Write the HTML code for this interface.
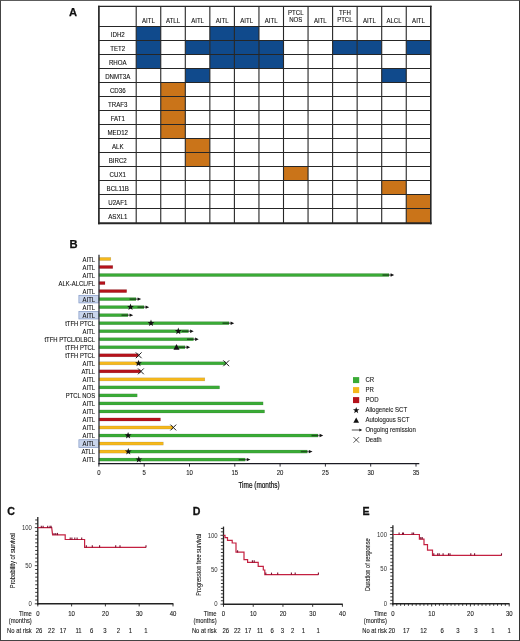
<!DOCTYPE html>
<html><head><meta charset="utf-8"><style>
html,body{margin:0;padding:0;background:#fff;}
.wrap{position:relative;width:520px;height:641px;overflow:hidden;background:#fff;}
svg{position:absolute;left:0;top:0;font-family:"Liberation Sans", sans-serif;filter:blur(0.35px);}
.frame{position:absolute;left:0;top:0;width:518px;height:639px;border:1px solid #444;border-top-color:#5c5c5c;border-right-color:#333;}
</style></head><body><div class="wrap">
<svg width="520" height="641" viewBox="0 0 520 641">
<text x="69.00" y="16.20" font-size="11.2" text-anchor="start" font-weight="bold" fill="#111" stroke="#111" stroke-width="0.25">A</text>
<rect x="98.9" y="6.4" width="331.9" height="216.79999999999998" fill="#fff"/>
<rect x="136.20" y="26.55" width="24.55" height="14.00" fill="#104a8c"/>
<rect x="209.85" y="26.55" width="24.55" height="14.00" fill="#104a8c"/>
<rect x="234.40" y="26.55" width="24.55" height="14.00" fill="#104a8c"/>
<rect x="136.20" y="40.55" width="24.55" height="14.00" fill="#104a8c"/>
<rect x="185.30" y="40.55" width="24.55" height="14.00" fill="#104a8c"/>
<rect x="209.85" y="40.55" width="24.55" height="14.00" fill="#104a8c"/>
<rect x="234.40" y="40.55" width="24.55" height="14.00" fill="#104a8c"/>
<rect x="258.95" y="40.55" width="24.55" height="14.00" fill="#104a8c"/>
<rect x="332.60" y="40.55" width="24.55" height="14.00" fill="#104a8c"/>
<rect x="357.15" y="40.55" width="24.55" height="14.00" fill="#104a8c"/>
<rect x="406.25" y="40.55" width="24.55" height="14.00" fill="#104a8c"/>
<rect x="136.20" y="54.55" width="24.55" height="14.00" fill="#104a8c"/>
<rect x="209.85" y="54.55" width="24.55" height="14.00" fill="#104a8c"/>
<rect x="234.40" y="54.55" width="24.55" height="14.00" fill="#104a8c"/>
<rect x="258.95" y="54.55" width="24.55" height="14.00" fill="#104a8c"/>
<rect x="185.30" y="68.55" width="24.55" height="14.00" fill="#104a8c"/>
<rect x="381.70" y="68.55" width="24.55" height="14.00" fill="#104a8c"/>
<rect x="160.75" y="82.55" width="24.55" height="14.00" fill="#ca7419"/>
<rect x="160.75" y="96.55" width="24.55" height="14.00" fill="#ca7419"/>
<rect x="160.75" y="110.55" width="24.55" height="14.00" fill="#ca7419"/>
<rect x="160.75" y="124.55" width="24.55" height="14.00" fill="#ca7419"/>
<rect x="185.30" y="138.55" width="24.55" height="14.00" fill="#ca7419"/>
<rect x="185.30" y="152.55" width="24.55" height="14.00" fill="#ca7419"/>
<rect x="283.50" y="166.55" width="24.55" height="14.00" fill="#ca7419"/>
<rect x="381.70" y="180.55" width="24.55" height="14.00" fill="#ca7419"/>
<rect x="406.25" y="194.55" width="24.55" height="14.00" fill="#ca7419"/>
<rect x="406.25" y="208.55" width="24.55" height="14.65" fill="#ca7419"/>
<line x1="136.20" y1="6.4" x2="136.20" y2="223.20" stroke="#262626" stroke-width="1.1"/>
<line x1="160.75" y1="6.4" x2="160.75" y2="223.20" stroke="#262626" stroke-width="1.1"/>
<line x1="185.30" y1="6.4" x2="185.30" y2="223.20" stroke="#262626" stroke-width="1.1"/>
<line x1="209.85" y1="6.4" x2="209.85" y2="223.20" stroke="#262626" stroke-width="1.1"/>
<line x1="234.40" y1="6.4" x2="234.40" y2="223.20" stroke="#262626" stroke-width="1.1"/>
<line x1="258.95" y1="6.4" x2="258.95" y2="223.20" stroke="#262626" stroke-width="1.1"/>
<line x1="283.50" y1="6.4" x2="283.50" y2="223.20" stroke="#262626" stroke-width="1.1"/>
<line x1="308.05" y1="6.4" x2="308.05" y2="223.20" stroke="#262626" stroke-width="1.1"/>
<line x1="332.60" y1="6.4" x2="332.60" y2="223.20" stroke="#262626" stroke-width="1.1"/>
<line x1="357.15" y1="6.4" x2="357.15" y2="223.20" stroke="#262626" stroke-width="1.1"/>
<line x1="381.70" y1="6.4" x2="381.70" y2="223.20" stroke="#262626" stroke-width="1.1"/>
<line x1="406.25" y1="6.4" x2="406.25" y2="223.20" stroke="#262626" stroke-width="1.1"/>
<line x1="98.9" y1="26.55" x2="430.8" y2="26.55" stroke="#262626" stroke-width="1.1"/>
<line x1="98.9" y1="40.55" x2="430.8" y2="40.55" stroke="#262626" stroke-width="1.1"/>
<line x1="98.9" y1="54.55" x2="430.8" y2="54.55" stroke="#262626" stroke-width="1.1"/>
<line x1="98.9" y1="68.55" x2="430.8" y2="68.55" stroke="#262626" stroke-width="1.1"/>
<line x1="98.9" y1="82.55" x2="430.8" y2="82.55" stroke="#262626" stroke-width="1.1"/>
<line x1="98.9" y1="96.55" x2="430.8" y2="96.55" stroke="#262626" stroke-width="1.1"/>
<line x1="98.9" y1="110.55" x2="430.8" y2="110.55" stroke="#262626" stroke-width="1.1"/>
<line x1="98.9" y1="124.55" x2="430.8" y2="124.55" stroke="#262626" stroke-width="1.1"/>
<line x1="98.9" y1="138.55" x2="430.8" y2="138.55" stroke="#262626" stroke-width="1.1"/>
<line x1="98.9" y1="152.55" x2="430.8" y2="152.55" stroke="#262626" stroke-width="1.1"/>
<line x1="98.9" y1="166.55" x2="430.8" y2="166.55" stroke="#262626" stroke-width="1.1"/>
<line x1="98.9" y1="180.55" x2="430.8" y2="180.55" stroke="#262626" stroke-width="1.1"/>
<line x1="98.9" y1="194.55" x2="430.8" y2="194.55" stroke="#262626" stroke-width="1.1"/>
<line x1="98.9" y1="208.55" x2="430.8" y2="208.55" stroke="#262626" stroke-width="1.1"/>
<line x1="98.9" y1="5.800000000000001" x2="98.9" y2="224.30" stroke="#262626" stroke-width="1.7"/>
<line x1="430.8" y1="5.800000000000001" x2="430.8" y2="224.30" stroke="#262626" stroke-width="1.6"/>
<line x1="98.05000000000001" y1="6.4" x2="431.6" y2="6.4" stroke="#262626" stroke-width="1.25"/>
<line x1="98.05000000000001" y1="223.20" x2="431.6" y2="223.20" stroke="#262626" stroke-width="2.1"/>
<text transform="translate(148.47,22.50) scale(0.92,1)" font-size="6.6" text-anchor="middle" font-weight="normal" fill="#111" stroke="#111" stroke-width="0.1">AITL</text>
<text transform="translate(173.02,22.50) scale(0.92,1)" font-size="6.6" text-anchor="middle" font-weight="normal" fill="#111" stroke="#111" stroke-width="0.1">ATLL</text>
<text transform="translate(197.57,22.50) scale(0.92,1)" font-size="6.6" text-anchor="middle" font-weight="normal" fill="#111" stroke="#111" stroke-width="0.1">AITL</text>
<text transform="translate(222.12,22.50) scale(0.92,1)" font-size="6.6" text-anchor="middle" font-weight="normal" fill="#111" stroke="#111" stroke-width="0.1">AITL</text>
<text transform="translate(246.67,22.50) scale(0.92,1)" font-size="6.6" text-anchor="middle" font-weight="normal" fill="#111" stroke="#111" stroke-width="0.1">AITL</text>
<text transform="translate(271.23,22.50) scale(0.92,1)" font-size="6.6" text-anchor="middle" font-weight="normal" fill="#111" stroke="#111" stroke-width="0.1">AITL</text>
<text transform="translate(295.77,15.00) scale(0.92,1)" font-size="6.6" text-anchor="middle" font-weight="normal" fill="#111" stroke="#111" stroke-width="0.1">PTCL</text>
<text transform="translate(295.77,22.40) scale(0.92,1)" font-size="6.6" text-anchor="middle" font-weight="normal" fill="#111" stroke="#111" stroke-width="0.1">NOS</text>
<text transform="translate(320.32,22.50) scale(0.92,1)" font-size="6.6" text-anchor="middle" font-weight="normal" fill="#111" stroke="#111" stroke-width="0.1">AITL</text>
<text transform="translate(344.88,15.00) scale(0.92,1)" font-size="6.6" text-anchor="middle" font-weight="normal" fill="#111" stroke="#111" stroke-width="0.1">TFH</text>
<text transform="translate(344.88,22.40) scale(0.92,1)" font-size="6.6" text-anchor="middle" font-weight="normal" fill="#111" stroke="#111" stroke-width="0.1">PTCL</text>
<text transform="translate(369.42,22.50) scale(0.92,1)" font-size="6.6" text-anchor="middle" font-weight="normal" fill="#111" stroke="#111" stroke-width="0.1">AITL</text>
<text transform="translate(393.98,22.50) scale(0.92,1)" font-size="6.6" text-anchor="middle" font-weight="normal" fill="#111" stroke="#111" stroke-width="0.1">ALCL</text>
<text transform="translate(418.52,22.50) scale(0.92,1)" font-size="6.6" text-anchor="middle" font-weight="normal" fill="#111" stroke="#111" stroke-width="0.1">AITL</text>
<text transform="translate(117.75,36.50) scale(0.96,1)" font-size="6.4" text-anchor="middle" font-weight="normal" fill="#111" stroke="#111" stroke-width="0.1">IDH2</text>
<text transform="translate(117.75,50.50) scale(0.96,1)" font-size="6.4" text-anchor="middle" font-weight="normal" fill="#111" stroke="#111" stroke-width="0.1">TET2</text>
<text transform="translate(117.75,64.50) scale(0.96,1)" font-size="6.4" text-anchor="middle" font-weight="normal" fill="#111" stroke="#111" stroke-width="0.1">RHOA</text>
<text transform="translate(117.75,78.50) scale(0.96,1)" font-size="6.4" text-anchor="middle" font-weight="normal" fill="#111" stroke="#111" stroke-width="0.1">DNMT3A</text>
<text transform="translate(117.75,92.50) scale(0.96,1)" font-size="6.4" text-anchor="middle" font-weight="normal" fill="#111" stroke="#111" stroke-width="0.1">CD36</text>
<text transform="translate(117.75,106.50) scale(0.96,1)" font-size="6.4" text-anchor="middle" font-weight="normal" fill="#111" stroke="#111" stroke-width="0.1">TRAF3</text>
<text transform="translate(117.75,120.50) scale(0.96,1)" font-size="6.4" text-anchor="middle" font-weight="normal" fill="#111" stroke="#111" stroke-width="0.1">FAT1</text>
<text transform="translate(117.75,134.50) scale(0.96,1)" font-size="6.4" text-anchor="middle" font-weight="normal" fill="#111" stroke="#111" stroke-width="0.1">MED12</text>
<text transform="translate(117.75,148.50) scale(0.96,1)" font-size="6.4" text-anchor="middle" font-weight="normal" fill="#111" stroke="#111" stroke-width="0.1">ALK</text>
<text transform="translate(117.75,162.50) scale(0.96,1)" font-size="6.4" text-anchor="middle" font-weight="normal" fill="#111" stroke="#111" stroke-width="0.1">BIRC2</text>
<text transform="translate(117.75,176.50) scale(0.96,1)" font-size="6.4" text-anchor="middle" font-weight="normal" fill="#111" stroke="#111" stroke-width="0.1">CUX1</text>
<text transform="translate(117.75,190.50) scale(0.96,1)" font-size="6.4" text-anchor="middle" font-weight="normal" fill="#111" stroke="#111" stroke-width="0.1">BCL11B</text>
<text transform="translate(117.75,204.50) scale(0.96,1)" font-size="6.4" text-anchor="middle" font-weight="normal" fill="#111" stroke="#111" stroke-width="0.1">U2AF1</text>
<text transform="translate(117.75,218.82) scale(0.96,1)" font-size="6.4" text-anchor="middle" font-weight="normal" fill="#111" stroke="#111" stroke-width="0.1">ASXL1</text>
<text x="69.40" y="248.10" font-size="11.2" text-anchor="start" font-weight="bold" fill="#111" stroke="#111" stroke-width="0.25">B</text>
<rect x="78.9" y="295.32" width="19.6" height="7.6" fill="#c9d5ec" stroke="#8197c5" stroke-width="0.7"/>
<rect x="78.9" y="311.37" width="19.6" height="7.6" fill="#c9d5ec" stroke="#8197c5" stroke-width="0.7"/>
<rect x="78.9" y="439.75" width="19.6" height="7.6" fill="#c9d5ec" stroke="#8197c5" stroke-width="0.7"/>
<text transform="translate(95.10,261.60) scale(0.94,1)" font-size="6.3" text-anchor="end" font-weight="normal" fill="#111" stroke="#111" stroke-width="0.1">AITL</text>
<rect x="98.90" y="257.45" width="11.90" height="3.1" fill="#f5b81c" stroke="#000" stroke-opacity="0.2" stroke-width="0.5"/>
<text transform="translate(95.10,269.62) scale(0.94,1)" font-size="6.3" text-anchor="end" font-weight="normal" fill="#111" stroke="#111" stroke-width="0.1">AITL</text>
<rect x="98.90" y="265.47" width="13.90" height="3.1" fill="#b5121b" stroke="#000" stroke-opacity="0.2" stroke-width="0.5"/>
<text transform="translate(95.10,277.65) scale(0.94,1)" font-size="6.3" text-anchor="end" font-weight="normal" fill="#111" stroke="#111" stroke-width="0.1">AITL</text>
<rect x="98.90" y="273.50" width="290.10" height="3.1" fill="#3aab36" stroke="#000" stroke-opacity="0.2" stroke-width="0.5"/>
<line x1="382.50" y1="275.05" x2="391.00" y2="275.05" stroke="#000" stroke-opacity="0.5" stroke-width="1.5"/><polygon points="390.60,273.35 394.20,275.05 390.60,276.75" fill="#111"/>
<text transform="translate(95.10,285.67) scale(0.94,1)" font-size="6.3" text-anchor="end" font-weight="normal" fill="#111" stroke="#111" stroke-width="0.1">ALK-ALCL/FL</text>
<rect x="98.90" y="281.52" width="6.10" height="3.1" fill="#b5121b" stroke="#000" stroke-opacity="0.2" stroke-width="0.5"/>
<text transform="translate(95.10,293.70) scale(0.94,1)" font-size="6.3" text-anchor="end" font-weight="normal" fill="#111" stroke="#111" stroke-width="0.1">AITL</text>
<rect x="98.90" y="289.55" width="27.80" height="3.1" fill="#b5121b" stroke="#000" stroke-opacity="0.2" stroke-width="0.5"/>
<text transform="translate(95.10,301.72) scale(0.94,1)" font-size="6.3" text-anchor="end" font-weight="normal" fill="#111" stroke="#111" stroke-width="0.1">AITL</text>
<rect x="98.90" y="297.57" width="37.10" height="3.1" fill="#3aab36" stroke="#000" stroke-opacity="0.2" stroke-width="0.5"/>
<line x1="129.50" y1="299.12" x2="138.00" y2="299.12" stroke="#000" stroke-opacity="0.5" stroke-width="1.5"/><polygon points="137.60,297.42 141.20,299.12 137.60,300.82" fill="#111"/>
<text transform="translate(95.10,309.74) scale(0.94,1)" font-size="6.3" text-anchor="end" font-weight="normal" fill="#111" stroke="#111" stroke-width="0.1">AITL</text>
<rect x="98.90" y="305.59" width="45.10" height="3.1" fill="#3aab36" stroke="#000" stroke-opacity="0.2" stroke-width="0.5"/>
<line x1="137.50" y1="307.14" x2="146.00" y2="307.14" stroke="#000" stroke-opacity="0.5" stroke-width="1.5"/><polygon points="145.60,305.44 149.20,307.14 145.60,308.84" fill="#111"/>
<polygon points="130.50,303.54 131.35,305.97 133.92,306.03 131.88,307.59 132.62,310.06 130.50,308.59 128.38,310.06 129.12,307.59 127.08,306.03 129.65,305.97" fill="#111"/>
<text transform="translate(95.10,317.77) scale(0.94,1)" font-size="6.3" text-anchor="end" font-weight="normal" fill="#111" stroke="#111" stroke-width="0.1">AITL</text>
<rect x="98.90" y="313.62" width="29.10" height="3.1" fill="#3aab36" stroke="#000" stroke-opacity="0.2" stroke-width="0.5"/>
<line x1="121.50" y1="315.17" x2="130.00" y2="315.17" stroke="#000" stroke-opacity="0.5" stroke-width="1.5"/><polygon points="129.60,313.47 133.20,315.17 129.60,316.87" fill="#111"/>
<text transform="translate(95.10,325.79) scale(0.94,1)" font-size="6.3" text-anchor="end" font-weight="normal" fill="#111" stroke="#111" stroke-width="0.1">tTFH PTCL</text>
<rect x="98.90" y="321.64" width="130.10" height="3.1" fill="#3aab36" stroke="#000" stroke-opacity="0.2" stroke-width="0.5"/>
<line x1="222.50" y1="323.19" x2="231.00" y2="323.19" stroke="#000" stroke-opacity="0.5" stroke-width="1.5"/><polygon points="230.60,321.49 234.20,323.19 230.60,324.89" fill="#111"/>
<polygon points="151.00,319.59 151.85,322.02 154.42,322.08 152.38,323.64 153.12,326.10 151.00,324.64 148.88,326.10 149.62,323.64 147.58,322.08 150.15,322.02" fill="#111"/>
<text transform="translate(95.10,333.82) scale(0.94,1)" font-size="6.3" text-anchor="end" font-weight="normal" fill="#111" stroke="#111" stroke-width="0.1">AITL</text>
<rect x="98.90" y="329.67" width="89.60" height="3.1" fill="#3aab36" stroke="#000" stroke-opacity="0.2" stroke-width="0.5"/>
<line x1="182.00" y1="331.22" x2="190.50" y2="331.22" stroke="#000" stroke-opacity="0.5" stroke-width="1.5"/><polygon points="190.10,329.52 193.70,331.22 190.10,332.92" fill="#111"/>
<polygon points="178.30,327.62 179.15,330.04 181.72,330.10 179.68,331.66 180.42,334.13 178.30,332.67 176.18,334.13 176.92,331.66 174.88,330.10 177.45,330.04" fill="#111"/>
<text transform="translate(95.10,341.84) scale(0.94,1)" font-size="6.3" text-anchor="end" font-weight="normal" fill="#111" stroke="#111" stroke-width="0.1">tTFH PTCL/DLBCL</text>
<rect x="98.90" y="337.69" width="94.60" height="3.1" fill="#3aab36" stroke="#000" stroke-opacity="0.2" stroke-width="0.5"/>
<line x1="187.00" y1="339.24" x2="195.50" y2="339.24" stroke="#000" stroke-opacity="0.5" stroke-width="1.5"/><polygon points="195.10,337.54 198.70,339.24 195.10,340.94" fill="#111"/>
<text transform="translate(95.10,349.86) scale(0.94,1)" font-size="6.3" text-anchor="end" font-weight="normal" fill="#111" stroke="#111" stroke-width="0.1">tTFH PTCL</text>
<rect x="98.90" y="345.71" width="86.10" height="3.1" fill="#3aab36" stroke="#000" stroke-opacity="0.2" stroke-width="0.5"/>
<line x1="178.50" y1="347.26" x2="187.00" y2="347.26" stroke="#000" stroke-opacity="0.5" stroke-width="1.5"/><polygon points="186.60,345.56 190.20,347.26 186.60,348.96" fill="#111"/>
<polygon points="176.50,344.06 179.54,349.66 173.46,349.66" fill="#111"/>
<text transform="translate(95.10,357.89) scale(0.94,1)" font-size="6.3" text-anchor="end" font-weight="normal" fill="#111" stroke="#111" stroke-width="0.1">tTFH PTCL</text>
<rect x="98.90" y="353.74" width="39.40" height="3.1" fill="#b5121b" stroke="#000" stroke-opacity="0.2" stroke-width="0.5"/>
<path d="M135.80,352.39 L141.60,358.19 M141.60,352.39 L135.80,358.19" stroke="#111" stroke-width="0.95" fill="none"/>
<text transform="translate(95.10,365.91) scale(0.94,1)" font-size="6.3" text-anchor="end" font-weight="normal" fill="#111" stroke="#111" stroke-width="0.1">AITL</text>
<rect x="98.90" y="361.76" width="39.60" height="3.1" fill="#f5b81c" stroke="#000" stroke-opacity="0.2" stroke-width="0.5"/>
<rect x="138.50" y="361.76" width="87.30" height="3.1" fill="#3aab36" stroke="#000" stroke-opacity="0.2" stroke-width="0.5"/>
<polygon points="138.50,359.71 139.35,362.14 141.92,362.20 139.88,363.76 140.62,366.22 138.50,364.76 136.38,366.22 137.12,363.76 135.08,362.20 137.65,362.14" fill="#111"/>
<path d="M223.30,360.41 L229.10,366.21 M229.10,360.41 L223.30,366.21" stroke="#111" stroke-width="0.95" fill="none"/>
<text transform="translate(95.10,373.94) scale(0.94,1)" font-size="6.3" text-anchor="end" font-weight="normal" fill="#111" stroke="#111" stroke-width="0.1">ATLL</text>
<rect x="98.90" y="369.79" width="41.60" height="3.1" fill="#b5121b" stroke="#000" stroke-opacity="0.2" stroke-width="0.5"/>
<path d="M138.00,368.44 L143.80,374.24 M143.80,368.44 L138.00,374.24" stroke="#111" stroke-width="0.95" fill="none"/>
<text transform="translate(95.10,381.96) scale(0.94,1)" font-size="6.3" text-anchor="end" font-weight="normal" fill="#111" stroke="#111" stroke-width="0.1">AITL</text>
<rect x="98.90" y="377.81" width="105.90" height="3.1" fill="#f5b81c" stroke="#000" stroke-opacity="0.2" stroke-width="0.5"/>
<text transform="translate(95.10,389.98) scale(0.94,1)" font-size="6.3" text-anchor="end" font-weight="normal" fill="#111" stroke="#111" stroke-width="0.1">AITL</text>
<rect x="98.90" y="385.83" width="120.70" height="3.1" fill="#3aab36" stroke="#000" stroke-opacity="0.2" stroke-width="0.5"/>
<text transform="translate(95.10,398.01) scale(0.94,1)" font-size="6.3" text-anchor="end" font-weight="normal" fill="#111" stroke="#111" stroke-width="0.1">PTCL NOS</text>
<rect x="98.90" y="393.86" width="38.30" height="3.1" fill="#3aab36" stroke="#000" stroke-opacity="0.2" stroke-width="0.5"/>
<text transform="translate(95.10,406.03) scale(0.94,1)" font-size="6.3" text-anchor="end" font-weight="normal" fill="#111" stroke="#111" stroke-width="0.1">AITL</text>
<rect x="98.90" y="401.88" width="164.20" height="3.1" fill="#3aab36" stroke="#000" stroke-opacity="0.2" stroke-width="0.5"/>
<text transform="translate(95.10,414.06) scale(0.94,1)" font-size="6.3" text-anchor="end" font-weight="normal" fill="#111" stroke="#111" stroke-width="0.1">AITL</text>
<rect x="98.90" y="409.91" width="165.70" height="3.1" fill="#3aab36" stroke="#000" stroke-opacity="0.2" stroke-width="0.5"/>
<text transform="translate(95.10,422.08) scale(0.94,1)" font-size="6.3" text-anchor="end" font-weight="normal" fill="#111" stroke="#111" stroke-width="0.1">AITL</text>
<rect x="98.90" y="417.93" width="61.60" height="3.1" fill="#b5121b" stroke="#000" stroke-opacity="0.2" stroke-width="0.5"/>
<text transform="translate(95.10,430.10) scale(0.94,1)" font-size="6.3" text-anchor="end" font-weight="normal" fill="#111" stroke="#111" stroke-width="0.1">AITL</text>
<rect x="98.90" y="425.95" width="74.00" height="3.1" fill="#f5b81c" stroke="#000" stroke-opacity="0.2" stroke-width="0.5"/>
<path d="M170.40,424.60 L176.20,430.40 M176.20,424.60 L170.40,430.40" stroke="#111" stroke-width="0.95" fill="none"/>
<text transform="translate(95.10,438.13) scale(0.94,1)" font-size="6.3" text-anchor="end" font-weight="normal" fill="#111" stroke="#111" stroke-width="0.1">AITL</text>
<rect x="98.90" y="433.98" width="219.10" height="3.1" fill="#3aab36" stroke="#000" stroke-opacity="0.2" stroke-width="0.5"/>
<line x1="311.50" y1="435.53" x2="320.00" y2="435.53" stroke="#000" stroke-opacity="0.5" stroke-width="1.5"/><polygon points="319.60,433.83 323.20,435.53 319.60,437.23" fill="#111"/>
<polygon points="128.10,431.93 128.95,434.35 131.52,434.42 129.48,435.98 130.22,438.44 128.10,436.98 125.98,438.44 126.72,435.98 124.68,434.42 127.25,434.35" fill="#111"/>
<text transform="translate(95.10,446.15) scale(0.94,1)" font-size="6.3" text-anchor="end" font-weight="normal" fill="#111" stroke="#111" stroke-width="0.1">AITL</text>
<rect x="98.90" y="442.00" width="64.40" height="3.1" fill="#f5b81c" stroke="#000" stroke-opacity="0.2" stroke-width="0.5"/>
<text transform="translate(95.10,454.18) scale(0.94,1)" font-size="6.3" text-anchor="end" font-weight="normal" fill="#111" stroke="#111" stroke-width="0.1">ATLL</text>
<rect x="98.90" y="450.03" width="29.40" height="3.1" fill="#f5b81c" stroke="#000" stroke-opacity="0.2" stroke-width="0.5"/>
<rect x="128.30" y="450.03" width="179.00" height="3.1" fill="#3aab36" stroke="#000" stroke-opacity="0.2" stroke-width="0.5"/>
<polygon points="128.30,447.98 129.15,450.40 131.72,450.46 129.68,452.02 130.42,454.49 128.30,453.03 126.18,454.49 126.92,452.02 124.88,450.46 127.45,450.40" fill="#111"/>
<line x1="300.80" y1="451.58" x2="309.30" y2="451.58" stroke="#000" stroke-opacity="0.5" stroke-width="1.5"/><polygon points="308.90,449.88 312.50,451.58 308.90,453.28" fill="#111"/>
<text transform="translate(95.10,462.20) scale(0.94,1)" font-size="6.3" text-anchor="end" font-weight="normal" fill="#111" stroke="#111" stroke-width="0.1">AITL</text>
<rect x="98.90" y="458.05" width="146.30" height="3.1" fill="#3aab36" stroke="#000" stroke-opacity="0.2" stroke-width="0.5"/>
<line x1="238.70" y1="459.60" x2="247.20" y2="459.60" stroke="#000" stroke-opacity="0.5" stroke-width="1.5"/><polygon points="246.80,457.90 250.40,459.60 246.80,461.30" fill="#111"/>
<polygon points="138.80,456.00 139.65,458.43 142.22,458.49 140.18,460.05 140.92,462.51 138.80,461.05 136.68,462.51 137.42,460.05 135.38,458.49 137.95,458.43" fill="#111"/>
<line x1="99.0" y1="254.7" x2="99.0" y2="464.20000000000005" stroke="#2e3038" stroke-width="1.3"/>
<line x1="98.4" y1="463.6" x2="419.3" y2="463.6" stroke="#1a1a22" stroke-width="1.1"/>
<line x1="98.90" y1="463.6" x2="98.90" y2="466.6" stroke="#1a1a22" stroke-width="0.9"/>
<text transform="translate(98.90,475.40) scale(0.95,1)" font-size="6.3" text-anchor="middle" font-weight="normal" fill="#1a1a1a" stroke="#1a1a1a" stroke-width="0.1">0</text>
<line x1="144.20" y1="463.6" x2="144.20" y2="466.6" stroke="#1a1a22" stroke-width="0.9"/>
<text transform="translate(144.20,475.40) scale(0.95,1)" font-size="6.3" text-anchor="middle" font-weight="normal" fill="#1a1a1a" stroke="#1a1a1a" stroke-width="0.1">5</text>
<line x1="189.50" y1="463.6" x2="189.50" y2="466.6" stroke="#1a1a22" stroke-width="0.9"/>
<text transform="translate(189.50,475.40) scale(0.95,1)" font-size="6.3" text-anchor="middle" font-weight="normal" fill="#1a1a1a" stroke="#1a1a1a" stroke-width="0.1">10</text>
<line x1="234.80" y1="463.6" x2="234.80" y2="466.6" stroke="#1a1a22" stroke-width="0.9"/>
<text transform="translate(234.80,475.40) scale(0.95,1)" font-size="6.3" text-anchor="middle" font-weight="normal" fill="#1a1a1a" stroke="#1a1a1a" stroke-width="0.1">15</text>
<line x1="280.10" y1="463.6" x2="280.10" y2="466.6" stroke="#1a1a22" stroke-width="0.9"/>
<text transform="translate(280.10,475.40) scale(0.95,1)" font-size="6.3" text-anchor="middle" font-weight="normal" fill="#1a1a1a" stroke="#1a1a1a" stroke-width="0.1">20</text>
<line x1="325.40" y1="463.6" x2="325.40" y2="466.6" stroke="#1a1a22" stroke-width="0.9"/>
<text transform="translate(325.40,475.40) scale(0.95,1)" font-size="6.3" text-anchor="middle" font-weight="normal" fill="#1a1a1a" stroke="#1a1a1a" stroke-width="0.1">25</text>
<line x1="370.70" y1="463.6" x2="370.70" y2="466.6" stroke="#1a1a22" stroke-width="0.9"/>
<text transform="translate(370.70,475.40) scale(0.95,1)" font-size="6.3" text-anchor="middle" font-weight="normal" fill="#1a1a1a" stroke="#1a1a1a" stroke-width="0.1">30</text>
<line x1="416.00" y1="463.6" x2="416.00" y2="466.6" stroke="#1a1a22" stroke-width="0.9"/>
<text transform="translate(416.00,475.40) scale(0.95,1)" font-size="6.3" text-anchor="middle" font-weight="normal" fill="#1a1a1a" stroke="#1a1a1a" stroke-width="0.1">35</text>
<text x="259.05" y="487.50" font-size="8.6" text-anchor="middle" font-weight="normal" fill="#111" stroke="#111" stroke-width="0.22" textLength="41.3" lengthAdjust="spacingAndGlyphs">Time (months)</text>
<rect x="353" y="377.1" width="6.2" height="6" fill="#3aab36"/>
<rect x="353" y="387.1" width="6.2" height="6" fill="#f5b81c"/>
<rect x="353" y="397.1" width="6.2" height="6" fill="#b5121b"/>
<polygon points="356.20,407.00 357.02,409.27 359.43,409.35 357.53,410.83 358.20,413.15 356.20,411.80 354.20,413.15 354.87,410.83 352.97,409.35 355.38,409.27" fill="#111"/>
<polygon points="356.20,417.40 359.05,422.65 353.35,422.65" fill="#111"/>
<line x1="351.8" y1="430" x2="360" y2="430" stroke="#777" stroke-width="1.3"/>
<polygon points="359.4,428.5 362.2,430 359.4,431.5" fill="#111"/>
<path d="M353.50,437.10 L359.10,442.70 M359.10,437.10 L353.50,442.70" stroke="#111" stroke-width="0.7" fill="none"/>
<text transform="translate(365.40,382.10) scale(0.905,1)" font-size="6.7" text-anchor="start" font-weight="normal" fill="#1a1a1a" stroke="#1a1a1a" stroke-width="0.1">CR</text>
<text transform="translate(365.40,392.10) scale(0.905,1)" font-size="6.7" text-anchor="start" font-weight="normal" fill="#1a1a1a" stroke="#1a1a1a" stroke-width="0.1">PR</text>
<text transform="translate(365.40,402.10) scale(0.905,1)" font-size="6.7" text-anchor="start" font-weight="normal" fill="#1a1a1a" stroke="#1a1a1a" stroke-width="0.1">POD</text>
<text transform="translate(365.40,412.10) scale(0.905,1)" font-size="6.7" text-anchor="start" font-weight="normal" fill="#1a1a1a" stroke="#1a1a1a" stroke-width="0.1">Allogeneic SCT</text>
<text transform="translate(365.40,422.10) scale(0.905,1)" font-size="6.7" text-anchor="start" font-weight="normal" fill="#1a1a1a" stroke="#1a1a1a" stroke-width="0.1">Autologous SCT</text>
<text transform="translate(365.40,432.10) scale(0.905,1)" font-size="6.7" text-anchor="start" font-weight="normal" fill="#1a1a1a" stroke="#1a1a1a" stroke-width="0.1">Ongoing remission</text>
<text transform="translate(365.40,442.10) scale(0.905,1)" font-size="6.7" text-anchor="start" font-weight="normal" fill="#1a1a1a" stroke="#1a1a1a" stroke-width="0.1">Death</text>
<text x="7.20" y="514.70" font-size="10.6" text-anchor="start" font-weight="bold" fill="#111" stroke="#111" stroke-width="0.3">C</text>
<line x1="37.8" y1="517.0" x2="37.8" y2="604.6999999999999" stroke="#222" stroke-width="1.3"/>
<line x1="34.80" y1="603.80" x2="37.8" y2="603.80" stroke="#222" stroke-width="0.9"/>
<line x1="35.20" y1="599.99" x2="37.8" y2="599.99" stroke="#222" stroke-width="0.9"/>
<line x1="35.20" y1="596.18" x2="37.8" y2="596.18" stroke="#222" stroke-width="0.9"/>
<line x1="35.20" y1="592.37" x2="37.8" y2="592.37" stroke="#222" stroke-width="0.9"/>
<line x1="35.20" y1="588.56" x2="37.8" y2="588.56" stroke="#222" stroke-width="0.9"/>
<line x1="35.20" y1="584.75" x2="37.8" y2="584.75" stroke="#222" stroke-width="0.9"/>
<line x1="35.20" y1="580.94" x2="37.8" y2="580.94" stroke="#222" stroke-width="0.9"/>
<line x1="35.20" y1="577.13" x2="37.8" y2="577.13" stroke="#222" stroke-width="0.9"/>
<line x1="35.20" y1="573.32" x2="37.8" y2="573.32" stroke="#222" stroke-width="0.9"/>
<line x1="35.20" y1="569.51" x2="37.8" y2="569.51" stroke="#222" stroke-width="0.9"/>
<line x1="34.80" y1="565.70" x2="37.8" y2="565.70" stroke="#222" stroke-width="0.9"/>
<line x1="35.20" y1="561.89" x2="37.8" y2="561.89" stroke="#222" stroke-width="0.9"/>
<line x1="35.20" y1="558.08" x2="37.8" y2="558.08" stroke="#222" stroke-width="0.9"/>
<line x1="35.20" y1="554.27" x2="37.8" y2="554.27" stroke="#222" stroke-width="0.9"/>
<line x1="35.20" y1="550.46" x2="37.8" y2="550.46" stroke="#222" stroke-width="0.9"/>
<line x1="35.20" y1="546.65" x2="37.8" y2="546.65" stroke="#222" stroke-width="0.9"/>
<line x1="35.20" y1="542.84" x2="37.8" y2="542.84" stroke="#222" stroke-width="0.9"/>
<line x1="35.20" y1="539.03" x2="37.8" y2="539.03" stroke="#222" stroke-width="0.9"/>
<line x1="35.20" y1="535.22" x2="37.8" y2="535.22" stroke="#222" stroke-width="0.9"/>
<line x1="35.20" y1="531.41" x2="37.8" y2="531.41" stroke="#222" stroke-width="0.9"/>
<line x1="34.80" y1="527.60" x2="37.8" y2="527.60" stroke="#222" stroke-width="0.9"/>
<line x1="35.20" y1="523.79" x2="37.8" y2="523.79" stroke="#222" stroke-width="0.9"/>
<line x1="35.20" y1="519.98" x2="37.8" y2="519.98" stroke="#222" stroke-width="0.9"/>
<text transform="translate(31.90,606.00) scale(0.95,1)" font-size="6.3" text-anchor="end" font-weight="normal" fill="#333" >0</text>
<text transform="translate(31.90,567.90) scale(0.95,1)" font-size="6.3" text-anchor="end" font-weight="normal" fill="#333" >50</text>
<text transform="translate(31.90,529.80) scale(0.95,1)" font-size="6.3" text-anchor="end" font-weight="normal" fill="#333" >100</text>
<line x1="37.199999999999996" y1="603.8" x2="173.4" y2="603.8" stroke="#222" stroke-width="1.5"/>
<line x1="37.80" y1="603.8" x2="37.80" y2="606.4" stroke="#222" stroke-width="0.9"/>
<line x1="71.60" y1="603.8" x2="71.60" y2="606.4" stroke="#222" stroke-width="0.9"/>
<line x1="105.40" y1="603.8" x2="105.40" y2="606.4" stroke="#222" stroke-width="0.9"/>
<line x1="139.20" y1="603.8" x2="139.20" y2="606.4" stroke="#222" stroke-width="0.9"/>
<line x1="173.00" y1="603.8" x2="173.00" y2="606.4" stroke="#222" stroke-width="0.9"/>
<text transform="translate(37.80,615.60) scale(0.95,1)" font-size="6.3" text-anchor="middle" font-weight="normal" fill="#1a1a1a" stroke="#1a1a1a" stroke-width="0.1">0</text>
<text transform="translate(71.60,615.60) scale(0.95,1)" font-size="6.3" text-anchor="middle" font-weight="normal" fill="#1a1a1a" stroke="#1a1a1a" stroke-width="0.1">10</text>
<text transform="translate(105.40,615.60) scale(0.95,1)" font-size="6.3" text-anchor="middle" font-weight="normal" fill="#1a1a1a" stroke="#1a1a1a" stroke-width="0.1">20</text>
<text transform="translate(139.20,615.60) scale(0.95,1)" font-size="6.3" text-anchor="middle" font-weight="normal" fill="#1a1a1a" stroke="#1a1a1a" stroke-width="0.1">30</text>
<text transform="translate(173.00,615.60) scale(0.95,1)" font-size="6.3" text-anchor="middle" font-weight="normal" fill="#1a1a1a" stroke="#1a1a1a" stroke-width="0.1">40</text>
<text transform="translate(31.80,615.60) scale(0.93,1)" font-size="6.3" text-anchor="end" font-weight="normal" fill="#1a1a1a" stroke="#1a1a1a" stroke-width="0.1">Time</text>
<text transform="translate(31.80,623.40) scale(0.93,1)" font-size="6.3" text-anchor="end" font-weight="normal" fill="#1a1a1a" stroke="#1a1a1a" stroke-width="0.1">(months)</text>
<text transform="translate(31.80,632.90) scale(0.93,1)" font-size="6.3" text-anchor="end" font-weight="normal" fill="#1a1a1a" stroke="#1a1a1a" stroke-width="0.1">No at risk</text>
<text transform="translate(39.10,632.90) scale(0.95,1)" font-size="6.3" text-anchor="middle" font-weight="normal" fill="#1a1a1a" stroke="#1a1a1a" stroke-width="0.1">26</text>
<text transform="translate(51.40,632.90) scale(0.95,1)" font-size="6.3" text-anchor="middle" font-weight="normal" fill="#1a1a1a" stroke="#1a1a1a" stroke-width="0.1">22</text>
<text transform="translate(63.00,632.90) scale(0.95,1)" font-size="6.3" text-anchor="middle" font-weight="normal" fill="#1a1a1a" stroke="#1a1a1a" stroke-width="0.1">17</text>
<text transform="translate(78.50,632.90) scale(0.95,1)" font-size="6.3" text-anchor="middle" font-weight="normal" fill="#1a1a1a" stroke="#1a1a1a" stroke-width="0.1">11</text>
<text transform="translate(91.70,632.90) scale(0.95,1)" font-size="6.3" text-anchor="middle" font-weight="normal" fill="#1a1a1a" stroke="#1a1a1a" stroke-width="0.1">6</text>
<text transform="translate(104.80,632.90) scale(0.95,1)" font-size="6.3" text-anchor="middle" font-weight="normal" fill="#1a1a1a" stroke="#1a1a1a" stroke-width="0.1">3</text>
<text transform="translate(118.30,632.90) scale(0.95,1)" font-size="6.3" text-anchor="middle" font-weight="normal" fill="#1a1a1a" stroke="#1a1a1a" stroke-width="0.1">2</text>
<text transform="translate(130.40,632.90) scale(0.95,1)" font-size="6.3" text-anchor="middle" font-weight="normal" fill="#1a1a1a" stroke="#1a1a1a" stroke-width="0.1">1</text>
<text transform="translate(146.00,632.90) scale(0.95,1)" font-size="6.3" text-anchor="middle" font-weight="normal" fill="#1a1a1a" stroke="#1a1a1a" stroke-width="0.1">1</text>
<text transform="translate(15.40,560.70) rotate(-90)" font-size="6.8" text-anchor="middle" fill="#1a1a1a" stroke="#1a1a1a" stroke-width="0.1" textLength="55.0" lengthAdjust="spacingAndGlyphs">Probability of survival</text>
<path d="M37.80,527.70 L51.70,527.70 L52.60,534.90 L65.20,534.90 L65.20,539.50 L84.60,539.50 L84.60,547.30 L146.00,547.30" fill="none" stroke="#c42040" stroke-width="1.2"/>
<line x1="41.30" y1="525.70" x2="41.30" y2="527.90" stroke="#7a1030" stroke-width="1.1"/>
<line x1="43.10" y1="525.70" x2="43.10" y2="527.90" stroke="#7a1030" stroke-width="1.1"/>
<line x1="47.70" y1="525.70" x2="47.70" y2="527.90" stroke="#7a1030" stroke-width="1.1"/>
<line x1="50.00" y1="525.70" x2="50.00" y2="527.90" stroke="#7a1030" stroke-width="1.1"/>
<line x1="51.10" y1="525.70" x2="51.10" y2="527.90" stroke="#7a1030" stroke-width="1.1"/>
<line x1="54.00" y1="532.90" x2="54.00" y2="535.10" stroke="#7a1030" stroke-width="1.1"/>
<line x1="55.80" y1="532.90" x2="55.80" y2="535.10" stroke="#7a1030" stroke-width="1.1"/>
<line x1="57.50" y1="532.90" x2="57.50" y2="535.10" stroke="#7a1030" stroke-width="1.1"/>
<line x1="70.20" y1="537.50" x2="70.20" y2="539.70" stroke="#7a1030" stroke-width="1.1"/>
<line x1="71.90" y1="537.50" x2="71.90" y2="539.70" stroke="#7a1030" stroke-width="1.1"/>
<line x1="74.80" y1="537.50" x2="74.80" y2="539.70" stroke="#7a1030" stroke-width="1.1"/>
<line x1="77.10" y1="537.50" x2="77.10" y2="539.70" stroke="#7a1030" stroke-width="1.1"/>
<line x1="81.70" y1="537.50" x2="81.70" y2="539.70" stroke="#7a1030" stroke-width="1.1"/>
<line x1="86.30" y1="545.30" x2="86.30" y2="547.50" stroke="#7a1030" stroke-width="1.1"/>
<line x1="92.30" y1="545.30" x2="92.30" y2="547.50" stroke="#7a1030" stroke-width="1.1"/>
<line x1="99.60" y1="545.30" x2="99.60" y2="547.50" stroke="#7a1030" stroke-width="1.1"/>
<line x1="115.70" y1="545.30" x2="115.70" y2="547.50" stroke="#7a1030" stroke-width="1.1"/>
<line x1="120.00" y1="545.30" x2="120.00" y2="547.50" stroke="#7a1030" stroke-width="1.1"/>
<line x1="146.00" y1="545.30" x2="146.00" y2="547.50" stroke="#7a1030" stroke-width="1.1"/>
<text x="192.80" y="514.70" font-size="10.6" text-anchor="start" font-weight="bold" fill="#111" stroke="#111" stroke-width="0.3">D</text>
<line x1="223.5" y1="526.6" x2="223.5" y2="605.1" stroke="#222" stroke-width="1.3"/>
<line x1="220.50" y1="604.20" x2="223.5" y2="604.20" stroke="#222" stroke-width="0.9"/>
<line x1="220.90" y1="600.75" x2="223.5" y2="600.75" stroke="#222" stroke-width="0.9"/>
<line x1="220.90" y1="597.31" x2="223.5" y2="597.31" stroke="#222" stroke-width="0.9"/>
<line x1="220.90" y1="593.87" x2="223.5" y2="593.87" stroke="#222" stroke-width="0.9"/>
<line x1="220.90" y1="590.42" x2="223.5" y2="590.42" stroke="#222" stroke-width="0.9"/>
<line x1="220.90" y1="586.98" x2="223.5" y2="586.98" stroke="#222" stroke-width="0.9"/>
<line x1="220.90" y1="583.53" x2="223.5" y2="583.53" stroke="#222" stroke-width="0.9"/>
<line x1="220.90" y1="580.09" x2="223.5" y2="580.09" stroke="#222" stroke-width="0.9"/>
<line x1="220.90" y1="576.64" x2="223.5" y2="576.64" stroke="#222" stroke-width="0.9"/>
<line x1="220.90" y1="573.20" x2="223.5" y2="573.20" stroke="#222" stroke-width="0.9"/>
<line x1="220.50" y1="569.75" x2="223.5" y2="569.75" stroke="#222" stroke-width="0.9"/>
<line x1="220.90" y1="566.30" x2="223.5" y2="566.30" stroke="#222" stroke-width="0.9"/>
<line x1="220.90" y1="562.86" x2="223.5" y2="562.86" stroke="#222" stroke-width="0.9"/>
<line x1="220.90" y1="559.41" x2="223.5" y2="559.41" stroke="#222" stroke-width="0.9"/>
<line x1="220.90" y1="555.97" x2="223.5" y2="555.97" stroke="#222" stroke-width="0.9"/>
<line x1="220.90" y1="552.52" x2="223.5" y2="552.52" stroke="#222" stroke-width="0.9"/>
<line x1="220.90" y1="549.08" x2="223.5" y2="549.08" stroke="#222" stroke-width="0.9"/>
<line x1="220.90" y1="545.63" x2="223.5" y2="545.63" stroke="#222" stroke-width="0.9"/>
<line x1="220.90" y1="542.19" x2="223.5" y2="542.19" stroke="#222" stroke-width="0.9"/>
<line x1="220.90" y1="538.75" x2="223.5" y2="538.75" stroke="#222" stroke-width="0.9"/>
<line x1="220.50" y1="535.30" x2="223.5" y2="535.30" stroke="#222" stroke-width="0.9"/>
<line x1="220.90" y1="531.85" x2="223.5" y2="531.85" stroke="#222" stroke-width="0.9"/>
<line x1="220.90" y1="528.41" x2="223.5" y2="528.41" stroke="#222" stroke-width="0.9"/>
<text transform="translate(217.60,606.40) scale(0.95,1)" font-size="6.3" text-anchor="end" font-weight="normal" fill="#333" >0</text>
<text transform="translate(217.60,571.95) scale(0.95,1)" font-size="6.3" text-anchor="end" font-weight="normal" fill="#333" >50</text>
<text transform="translate(217.60,537.50) scale(0.95,1)" font-size="6.3" text-anchor="end" font-weight="normal" fill="#333" >100</text>
<line x1="222.9" y1="604.2" x2="342.79999999999995" y2="604.2" stroke="#222" stroke-width="1.5"/>
<line x1="223.50" y1="604.2" x2="223.50" y2="606.8000000000001" stroke="#222" stroke-width="0.9"/>
<line x1="253.22" y1="604.2" x2="253.22" y2="606.8000000000001" stroke="#222" stroke-width="0.9"/>
<line x1="282.95" y1="604.2" x2="282.95" y2="606.8000000000001" stroke="#222" stroke-width="0.9"/>
<line x1="312.67" y1="604.2" x2="312.67" y2="606.8000000000001" stroke="#222" stroke-width="0.9"/>
<line x1="342.40" y1="604.2" x2="342.40" y2="606.8000000000001" stroke="#222" stroke-width="0.9"/>
<text transform="translate(223.50,615.60) scale(0.95,1)" font-size="6.3" text-anchor="middle" font-weight="normal" fill="#1a1a1a" stroke="#1a1a1a" stroke-width="0.1">0</text>
<text transform="translate(253.22,615.60) scale(0.95,1)" font-size="6.3" text-anchor="middle" font-weight="normal" fill="#1a1a1a" stroke="#1a1a1a" stroke-width="0.1">10</text>
<text transform="translate(282.95,615.60) scale(0.95,1)" font-size="6.3" text-anchor="middle" font-weight="normal" fill="#1a1a1a" stroke="#1a1a1a" stroke-width="0.1">20</text>
<text transform="translate(312.67,615.60) scale(0.95,1)" font-size="6.3" text-anchor="middle" font-weight="normal" fill="#1a1a1a" stroke="#1a1a1a" stroke-width="0.1">30</text>
<text transform="translate(342.40,615.60) scale(0.95,1)" font-size="6.3" text-anchor="middle" font-weight="normal" fill="#1a1a1a" stroke="#1a1a1a" stroke-width="0.1">40</text>
<text transform="translate(216.60,615.60) scale(0.93,1)" font-size="6.3" text-anchor="end" font-weight="normal" fill="#1a1a1a" stroke="#1a1a1a" stroke-width="0.1">Time</text>
<text transform="translate(216.60,623.40) scale(0.93,1)" font-size="6.3" text-anchor="end" font-weight="normal" fill="#1a1a1a" stroke="#1a1a1a" stroke-width="0.1">(months)</text>
<text transform="translate(216.60,632.90) scale(0.93,1)" font-size="6.3" text-anchor="end" font-weight="normal" fill="#1a1a1a" stroke="#1a1a1a" stroke-width="0.1">No at risk</text>
<text transform="translate(225.80,632.90) scale(0.95,1)" font-size="6.3" text-anchor="middle" font-weight="normal" fill="#1a1a1a" stroke="#1a1a1a" stroke-width="0.1">26</text>
<text transform="translate(237.20,632.90) scale(0.95,1)" font-size="6.3" text-anchor="middle" font-weight="normal" fill="#1a1a1a" stroke="#1a1a1a" stroke-width="0.1">22</text>
<text transform="translate(248.00,632.90) scale(0.95,1)" font-size="6.3" text-anchor="middle" font-weight="normal" fill="#1a1a1a" stroke="#1a1a1a" stroke-width="0.1">17</text>
<text transform="translate(260.00,632.90) scale(0.95,1)" font-size="6.3" text-anchor="middle" font-weight="normal" fill="#1a1a1a" stroke="#1a1a1a" stroke-width="0.1">11</text>
<text transform="translate(272.20,632.90) scale(0.95,1)" font-size="6.3" text-anchor="middle" font-weight="normal" fill="#1a1a1a" stroke="#1a1a1a" stroke-width="0.1">6</text>
<text transform="translate(282.30,632.90) scale(0.95,1)" font-size="6.3" text-anchor="middle" font-weight="normal" fill="#1a1a1a" stroke="#1a1a1a" stroke-width="0.1">3</text>
<text transform="translate(292.70,632.90) scale(0.95,1)" font-size="6.3" text-anchor="middle" font-weight="normal" fill="#1a1a1a" stroke="#1a1a1a" stroke-width="0.1">2</text>
<text transform="translate(303.50,632.90) scale(0.95,1)" font-size="6.3" text-anchor="middle" font-weight="normal" fill="#1a1a1a" stroke="#1a1a1a" stroke-width="0.1">1</text>
<text transform="translate(318.20,632.90) scale(0.95,1)" font-size="6.3" text-anchor="middle" font-weight="normal" fill="#1a1a1a" stroke="#1a1a1a" stroke-width="0.1">1</text>
<text transform="translate(201.40,564.80) rotate(-90)" font-size="6.8" text-anchor="middle" fill="#1a1a1a" stroke="#1a1a1a" stroke-width="0.1" textLength="62.0" lengthAdjust="spacingAndGlyphs">Progression free survival</text>
<path d="M223.50,535.30 L225.00,535.30 L225.00,537.70 L227.50,537.70 L227.50,540.40 L232.20,540.40 L232.20,543.00 L236.00,543.00 L236.00,552.20 L244.00,552.20 L244.00,559.60 L247.60,559.60 L247.60,562.30 L258.20,562.30 L258.20,566.30 L263.30,566.30 L263.30,570.00 L264.80,570.00 L264.80,574.60 L318.40,574.60" fill="none" stroke="#c42040" stroke-width="1.2"/>
<line x1="237.60" y1="550.20" x2="237.60" y2="552.40" stroke="#7a1030" stroke-width="1.1"/>
<line x1="252.40" y1="560.30" x2="252.40" y2="562.50" stroke="#7a1030" stroke-width="1.1"/>
<line x1="254.20" y1="560.30" x2="254.20" y2="562.50" stroke="#7a1030" stroke-width="1.1"/>
<line x1="265.80" y1="572.60" x2="265.80" y2="574.80" stroke="#7a1030" stroke-width="1.1"/>
<line x1="271.50" y1="572.60" x2="271.50" y2="574.80" stroke="#7a1030" stroke-width="1.1"/>
<line x1="277.70" y1="572.60" x2="277.70" y2="574.80" stroke="#7a1030" stroke-width="1.1"/>
<line x1="291.40" y1="572.60" x2="291.40" y2="574.80" stroke="#7a1030" stroke-width="1.1"/>
<line x1="295.20" y1="572.60" x2="295.20" y2="574.80" stroke="#7a1030" stroke-width="1.1"/>
<line x1="318.40" y1="572.60" x2="318.40" y2="574.80" stroke="#7a1030" stroke-width="1.1"/>
<text x="362.40" y="514.70" font-size="10.6" text-anchor="start" font-weight="bold" fill="#111" stroke="#111" stroke-width="0.3">E</text>
<line x1="392.9" y1="525.3" x2="392.9" y2="604.6999999999999" stroke="#222" stroke-width="1.3"/>
<line x1="389.90" y1="603.80" x2="392.9" y2="603.80" stroke="#222" stroke-width="0.9"/>
<line x1="390.30" y1="600.33" x2="392.9" y2="600.33" stroke="#222" stroke-width="0.9"/>
<line x1="390.30" y1="596.87" x2="392.9" y2="596.87" stroke="#222" stroke-width="0.9"/>
<line x1="390.30" y1="593.40" x2="392.9" y2="593.40" stroke="#222" stroke-width="0.9"/>
<line x1="390.30" y1="589.94" x2="392.9" y2="589.94" stroke="#222" stroke-width="0.9"/>
<line x1="390.30" y1="586.47" x2="392.9" y2="586.47" stroke="#222" stroke-width="0.9"/>
<line x1="390.30" y1="583.01" x2="392.9" y2="583.01" stroke="#222" stroke-width="0.9"/>
<line x1="390.30" y1="579.54" x2="392.9" y2="579.54" stroke="#222" stroke-width="0.9"/>
<line x1="390.30" y1="576.08" x2="392.9" y2="576.08" stroke="#222" stroke-width="0.9"/>
<line x1="390.30" y1="572.62" x2="392.9" y2="572.62" stroke="#222" stroke-width="0.9"/>
<line x1="389.90" y1="569.15" x2="392.9" y2="569.15" stroke="#222" stroke-width="0.9"/>
<line x1="390.30" y1="565.68" x2="392.9" y2="565.68" stroke="#222" stroke-width="0.9"/>
<line x1="390.30" y1="562.22" x2="392.9" y2="562.22" stroke="#222" stroke-width="0.9"/>
<line x1="390.30" y1="558.75" x2="392.9" y2="558.75" stroke="#222" stroke-width="0.9"/>
<line x1="390.30" y1="555.29" x2="392.9" y2="555.29" stroke="#222" stroke-width="0.9"/>
<line x1="390.30" y1="551.83" x2="392.9" y2="551.83" stroke="#222" stroke-width="0.9"/>
<line x1="390.30" y1="548.36" x2="392.9" y2="548.36" stroke="#222" stroke-width="0.9"/>
<line x1="390.30" y1="544.89" x2="392.9" y2="544.89" stroke="#222" stroke-width="0.9"/>
<line x1="390.30" y1="541.43" x2="392.9" y2="541.43" stroke="#222" stroke-width="0.9"/>
<line x1="390.30" y1="537.97" x2="392.9" y2="537.97" stroke="#222" stroke-width="0.9"/>
<line x1="389.90" y1="534.50" x2="392.9" y2="534.50" stroke="#222" stroke-width="0.9"/>
<line x1="390.30" y1="531.03" x2="392.9" y2="531.03" stroke="#222" stroke-width="0.9"/>
<line x1="390.30" y1="527.57" x2="392.9" y2="527.57" stroke="#222" stroke-width="0.9"/>
<text transform="translate(387.00,606.00) scale(0.95,1)" font-size="6.3" text-anchor="end" font-weight="normal" fill="#333" >0</text>
<text transform="translate(387.00,571.35) scale(0.95,1)" font-size="6.3" text-anchor="end" font-weight="normal" fill="#333" >50</text>
<text transform="translate(387.00,536.70) scale(0.95,1)" font-size="6.3" text-anchor="end" font-weight="normal" fill="#333" >100</text>
<line x1="392.29999999999995" y1="603.8" x2="509.59999999999997" y2="603.8" stroke="#222" stroke-width="1.5"/>
<line x1="392.90" y1="603.8" x2="392.90" y2="606.4" stroke="#222" stroke-width="0.9"/>
<line x1="396.78" y1="603.8" x2="396.78" y2="605.8" stroke="#222" stroke-width="0.9"/>
<line x1="400.65" y1="603.8" x2="400.65" y2="605.8" stroke="#222" stroke-width="0.9"/>
<line x1="404.53" y1="603.8" x2="404.53" y2="605.8" stroke="#222" stroke-width="0.9"/>
<line x1="408.41" y1="603.8" x2="408.41" y2="605.8" stroke="#222" stroke-width="0.9"/>
<line x1="412.28" y1="603.8" x2="412.28" y2="605.8" stroke="#222" stroke-width="0.9"/>
<line x1="416.16" y1="603.8" x2="416.16" y2="605.8" stroke="#222" stroke-width="0.9"/>
<line x1="420.04" y1="603.8" x2="420.04" y2="605.8" stroke="#222" stroke-width="0.9"/>
<line x1="423.91" y1="603.8" x2="423.91" y2="605.8" stroke="#222" stroke-width="0.9"/>
<line x1="427.79" y1="603.8" x2="427.79" y2="605.8" stroke="#222" stroke-width="0.9"/>
<line x1="431.67" y1="603.8" x2="431.67" y2="606.4" stroke="#222" stroke-width="0.9"/>
<line x1="435.54" y1="603.8" x2="435.54" y2="605.8" stroke="#222" stroke-width="0.9"/>
<line x1="439.42" y1="603.8" x2="439.42" y2="605.8" stroke="#222" stroke-width="0.9"/>
<line x1="443.30" y1="603.8" x2="443.30" y2="605.8" stroke="#222" stroke-width="0.9"/>
<line x1="447.17" y1="603.8" x2="447.17" y2="605.8" stroke="#222" stroke-width="0.9"/>
<line x1="451.05" y1="603.8" x2="451.05" y2="605.8" stroke="#222" stroke-width="0.9"/>
<line x1="454.93" y1="603.8" x2="454.93" y2="605.8" stroke="#222" stroke-width="0.9"/>
<line x1="458.80" y1="603.8" x2="458.80" y2="605.8" stroke="#222" stroke-width="0.9"/>
<line x1="462.68" y1="603.8" x2="462.68" y2="605.8" stroke="#222" stroke-width="0.9"/>
<line x1="466.56" y1="603.8" x2="466.56" y2="605.8" stroke="#222" stroke-width="0.9"/>
<line x1="470.43" y1="603.8" x2="470.43" y2="606.4" stroke="#222" stroke-width="0.9"/>
<line x1="474.31" y1="603.8" x2="474.31" y2="605.8" stroke="#222" stroke-width="0.9"/>
<line x1="478.19" y1="603.8" x2="478.19" y2="605.8" stroke="#222" stroke-width="0.9"/>
<line x1="482.06" y1="603.8" x2="482.06" y2="605.8" stroke="#222" stroke-width="0.9"/>
<line x1="485.94" y1="603.8" x2="485.94" y2="605.8" stroke="#222" stroke-width="0.9"/>
<line x1="489.82" y1="603.8" x2="489.82" y2="605.8" stroke="#222" stroke-width="0.9"/>
<line x1="493.69" y1="603.8" x2="493.69" y2="605.8" stroke="#222" stroke-width="0.9"/>
<line x1="497.57" y1="603.8" x2="497.57" y2="605.8" stroke="#222" stroke-width="0.9"/>
<line x1="501.45" y1="603.8" x2="501.45" y2="605.8" stroke="#222" stroke-width="0.9"/>
<line x1="505.32" y1="603.8" x2="505.32" y2="605.8" stroke="#222" stroke-width="0.9"/>
<line x1="509.20" y1="603.8" x2="509.20" y2="606.4" stroke="#222" stroke-width="0.9"/>
<text transform="translate(392.90,615.60) scale(0.95,1)" font-size="6.3" text-anchor="middle" font-weight="normal" fill="#1a1a1a" stroke="#1a1a1a" stroke-width="0.1">0</text>
<text transform="translate(431.67,615.60) scale(0.95,1)" font-size="6.3" text-anchor="middle" font-weight="normal" fill="#1a1a1a" stroke="#1a1a1a" stroke-width="0.1">10</text>
<text transform="translate(470.43,615.60) scale(0.95,1)" font-size="6.3" text-anchor="middle" font-weight="normal" fill="#1a1a1a" stroke="#1a1a1a" stroke-width="0.1">20</text>
<text transform="translate(509.20,615.60) scale(0.95,1)" font-size="6.3" text-anchor="middle" font-weight="normal" fill="#1a1a1a" stroke="#1a1a1a" stroke-width="0.1">30</text>
<text transform="translate(386.90,615.60) scale(0.93,1)" font-size="6.3" text-anchor="end" font-weight="normal" fill="#1a1a1a" stroke="#1a1a1a" stroke-width="0.1">Time</text>
<text transform="translate(386.90,623.40) scale(0.93,1)" font-size="6.3" text-anchor="end" font-weight="normal" fill="#1a1a1a" stroke="#1a1a1a" stroke-width="0.1">(months)</text>
<text transform="translate(386.90,632.90) scale(0.93,1)" font-size="6.3" text-anchor="end" font-weight="normal" fill="#1a1a1a" stroke="#1a1a1a" stroke-width="0.1">No at risk</text>
<text transform="translate(391.80,632.90) scale(0.95,1)" font-size="6.3" text-anchor="middle" font-weight="normal" fill="#1a1a1a" stroke="#1a1a1a" stroke-width="0.1">20</text>
<text transform="translate(406.20,632.90) scale(0.95,1)" font-size="6.3" text-anchor="middle" font-weight="normal" fill="#1a1a1a" stroke="#1a1a1a" stroke-width="0.1">17</text>
<text transform="translate(423.50,632.90) scale(0.95,1)" font-size="6.3" text-anchor="middle" font-weight="normal" fill="#1a1a1a" stroke="#1a1a1a" stroke-width="0.1">12</text>
<text transform="translate(442.20,632.90) scale(0.95,1)" font-size="6.3" text-anchor="middle" font-weight="normal" fill="#1a1a1a" stroke="#1a1a1a" stroke-width="0.1">6</text>
<text transform="translate(457.80,632.90) scale(0.95,1)" font-size="6.3" text-anchor="middle" font-weight="normal" fill="#1a1a1a" stroke="#1a1a1a" stroke-width="0.1">3</text>
<text transform="translate(475.80,632.90) scale(0.95,1)" font-size="6.3" text-anchor="middle" font-weight="normal" fill="#1a1a1a" stroke="#1a1a1a" stroke-width="0.1">3</text>
<text transform="translate(492.80,632.90) scale(0.95,1)" font-size="6.3" text-anchor="middle" font-weight="normal" fill="#1a1a1a" stroke="#1a1a1a" stroke-width="0.1">1</text>
<text transform="translate(509.20,632.90) scale(0.95,1)" font-size="6.3" text-anchor="middle" font-weight="normal" fill="#1a1a1a" stroke="#1a1a1a" stroke-width="0.1">1</text>
<text transform="translate(370.40,564.60) rotate(-90)" font-size="6.8" text-anchor="middle" fill="#1a1a1a" stroke="#1a1a1a" stroke-width="0.1" textLength="52.6" lengthAdjust="spacingAndGlyphs">Duration of response</text>
<path d="M392.90,534.50 L419.40,534.50 L419.40,539.10 L424.00,539.10 L424.00,544.60 L427.50,544.60 L427.50,550.10 L432.50,550.10 L432.50,555.30 L501.60,555.30" fill="none" stroke="#c42040" stroke-width="1.2"/>
<line x1="399.10" y1="532.50" x2="399.10" y2="534.70" stroke="#7a1030" stroke-width="1.1"/>
<line x1="402.50" y1="532.50" x2="402.50" y2="534.70" stroke="#7a1030" stroke-width="1.1"/>
<line x1="403.50" y1="532.50" x2="403.50" y2="534.70" stroke="#7a1030" stroke-width="1.1"/>
<line x1="412.10" y1="532.50" x2="412.10" y2="534.70" stroke="#7a1030" stroke-width="1.1"/>
<line x1="413.60" y1="532.50" x2="413.60" y2="534.70" stroke="#7a1030" stroke-width="1.1"/>
<line x1="420.80" y1="537.10" x2="420.80" y2="539.30" stroke="#7a1030" stroke-width="1.1"/>
<line x1="422.20" y1="537.10" x2="422.20" y2="539.30" stroke="#7a1030" stroke-width="1.1"/>
<line x1="433.80" y1="553.30" x2="433.80" y2="555.50" stroke="#7a1030" stroke-width="1.1"/>
<line x1="437.70" y1="553.30" x2="437.70" y2="555.50" stroke="#7a1030" stroke-width="1.1"/>
<line x1="439.20" y1="553.30" x2="439.20" y2="555.50" stroke="#7a1030" stroke-width="1.1"/>
<line x1="443.10" y1="553.30" x2="443.10" y2="555.50" stroke="#7a1030" stroke-width="1.1"/>
<line x1="448.50" y1="553.30" x2="448.50" y2="555.50" stroke="#7a1030" stroke-width="1.1"/>
<line x1="450.00" y1="553.30" x2="450.00" y2="555.50" stroke="#7a1030" stroke-width="1.1"/>
<line x1="470.80" y1="553.30" x2="470.80" y2="555.50" stroke="#7a1030" stroke-width="1.1"/>
<line x1="474.60" y1="553.30" x2="474.60" y2="555.50" stroke="#7a1030" stroke-width="1.1"/>
<line x1="501.50" y1="553.30" x2="501.50" y2="555.50" stroke="#7a1030" stroke-width="1.1"/>
</svg><div class="frame"></div></div></body></html>
